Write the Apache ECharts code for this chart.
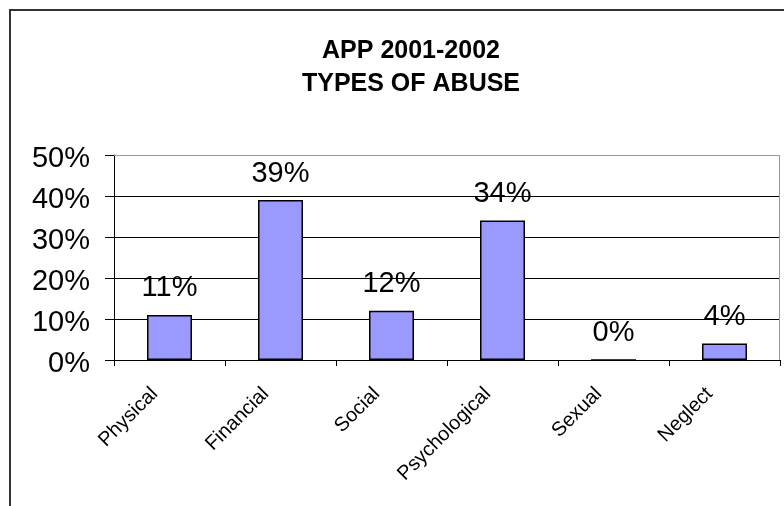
<!DOCTYPE html>
<html>
<head>
<meta charset="utf-8">
<script src="https://cdn.jsdelivr.net/npm/echarts@6/dist/echarts.min.js"></script>
<style>
html,body{margin:0;padding:0;background:#fff;}
#chart{width:784px;height:506px;}
</style>
</head>
<body>
<div id="chart"></div>
<script>
const categories = ['Physical', 'Financial', 'Social', 'Psychological', 'Sexual', 'Neglect'];
const values = [11, 39, 12, 34, 0, 4];
const yTicks = [0, 10, 20, 30, 40, 50];
const titleLines = ['APP 2001-2002', 'TYPES OF ABUSE'];

const chart = echarts.init(document.getElementById('chart'), null, {renderer: 'canvas'});
const FONT = '"Liberation Sans", Arial, sans-serif';
chart.setOption({
  animation: false,
  backgroundColor: '#fff',
  title: {
    text: titleLines.join('\n'),
    left: 406,
    top: 30,
    textAlign: 'center',
    textStyle: {fontFamily: FONT, fontSize: 25, fontWeight: 'bold', color: '#000', lineHeight: 33}
  },
  graphic: [
    {type: 'line', shape: {x1: 9, y1: 10, x2: 784, y2: 10}, style: {stroke: '#333', lineWidth: 2}},
    {type: 'line', shape: {x1: 10, y1: 9, x2: 10, y2: 506}, style: {stroke: '#333', lineWidth: 2}},
    {type: 'line', shape: {x1: 114, y1: 155.5, x2: 780, y2: 155.5}, style: {stroke: '#999', lineWidth: 1}, z: 10},
    {type: 'line', shape: {x1: 779.5, y1: 155, x2: 779.5, y2: 360}, style: {stroke: '#999', lineWidth: 1}, z: 10}
  ],
  grid: {left: 114, top: 155, right: 4, bottom: 146, containLabel: false},
  xAxis: {
    type: 'category',
    data: categories,
    boundaryGap: true,
    axisLine: {lineStyle: {color: '#000', width: 1}},
    axisTick: {show: true, alignWithLabel: false, length: 6, lineStyle: {color: '#000'}},
    axisLabel: {rotate: 45, margin: 16, padding: [0, 21, 0, 0], fontFamily: FONT, fontSize: 20, color: '#000', interval: 0}
  },
  yAxis: {
    type: 'value',
    min: yTicks[0],
    max: yTicks[yTicks.length - 1],
    interval: 10,
    axisLine: {show: true, lineStyle: {color: '#000', width: 1}},
    axisTick: {show: true, length: 9, lineStyle: {color: '#000'}},
    axisLabel: {margin: 24, verticalAlign: 'top', lineHeight: 8, fontFamily: FONT, fontSize: 29, color: '#000', formatter: v => v + '%'},
    splitLine: {show: true, lineStyle: {color: '#000', width: 1}}
  },
  series: [{
    type: 'bar',
    data: values,
    barWidth: 45,
    itemStyle: {color: '#9999FF', borderColor: '#000', borderWidth: 1.5},
    label: {show: true, position: 'top', distance: 12, fontFamily: FONT, fontSize: 29, color: '#000', formatter: p => p.value + '%'}
  }]
});
</script>
</body>
</html>
